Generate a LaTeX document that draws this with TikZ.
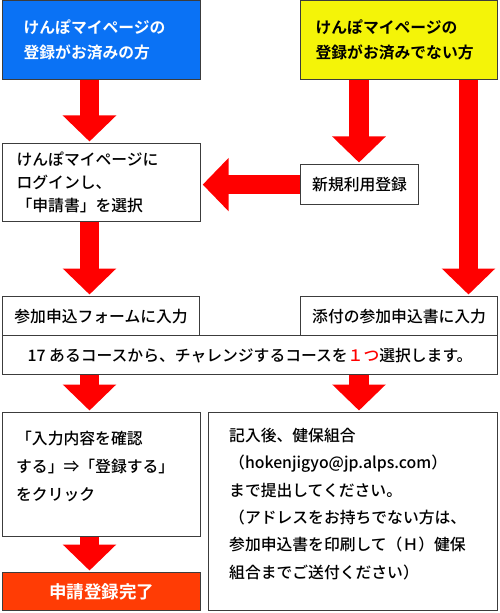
\documentclass[tikz,border=0pt]{standalone}
\usepackage{fontspec}
\setmainfont{Noto Sans CJK JP}[UprightFont=* Medium, BoldFont=* Bold]
\usepackage{xcolor}
\usetikzlibrary{arrows.meta,positioning}
\definecolor{kenpoblue}{RGB}{10, 114, 245}
\definecolor{kenpoyellow}{RGB}{244, 244, 8}
\definecolor{doneorange}{RGB}{255, 60, 5}
\definecolor{flowred}{RGB}{255, 0, 0}
\definecolor{framegray}{RGB}{60, 60, 60}

\tikzset{
  box/.style={draw=framegray, line width=1.2bp, anchor=north west, inner sep=0pt, align=left},
  txt/.style={anchor=north west, inner sep=0pt, align=left},
  redarrow/.style={flowred, line width=19.5bp, shorten >=1.5bp, -{Triangle[width=52bp, length=26bp]}}
}

\begin{document}
\begin{tikzpicture}[x=1bp, y=-1bp, font=\fontsize{15.8bp}{23bp}\selectfont]
            \useasboundingbox (0,0) rectangle (500,613);
            % columns of the arrows
            \coordinate (lcol) at (89.5,0);
            \coordinate (mcol) at (359,0);
            \coordinate (rcol) at (468.5,0);

            % top row
            \node[box, fill=kenpoblue, text=white, font=\fontsize{15.8bp}{25bp}\selectfont\bfseries,
                  minimum width=198bp, minimum height=79bp, text width=156bp] (registered) at (2,0)
                  {けんぽマイページの\\登録がお済みの方};
            \node[box, fill=kenpoyellow, font=\fontsize{15.8bp}{25bp}\selectfont\bfseries,
                  minimum width=197bp, minimum height=79bp, text width=167bp] (notregistered) at (300,0)
                  {けんぽマイページの\\登録がお済みでない方};

            % second row
            \node[box, minimum width=198bp, minimum height=78bp, text width=170bp] (login) at (2,143)
                  {けんぽマイページに\\ログインし、\\「申請書」を選択};
            \node[box, minimum width=118bp, minimum height=40bp, align=center] (signup) at (300,164)
                  {新規利用登録};

            % entry row
            \node[box, minimum width=197bp, minimum height=39bp, align=center] (form) at (2,296)
                  {参加申込フォームに入力};
            \node[box, minimum width=197bp, minimum height=39bp, align=center] (attached) at (300,296)
                  {添付の参加申込書に入力};
            \node[box, minimum width=495bp, minimum height=39bp, align=center] (course) at (2,335)
                  {17 あるコースから、チャレンジするコースを{\color{flowred}１つ}選択します。};

            % bottom row
            \node[box, minimum width=198bp, minimum height=124bp] (confirm) at (2,412) {};
            \node[txt, font=\fontsize{15.8bp}{28bp}\selectfont] (confirmtext) at (16,431)
                  {「入力内容を確認\\する」⇒「登録する」\\をクリック};
            \node[box, fill=doneorange, text=white, font=\fontsize{17.5bp}{20bp}\selectfont\bfseries,
                  minimum width=198bp, minimum height=38bp, align=center] (done) at (2,572)
                  {申請登録完了};
            \node[box, minimum width=289bp, minimum height=198bp] (submit) at (208,412) {};
            \node[txt, font=\fontsize{15.8bp}{27.3bp}\selectfont] (submittext) at (229,428)
                  {記入後、健保組合\\（hokenjigyo@jp.alps.com）\\まで提出してください。\\（アドレスをお持ちでない方は、\\参加申込書を印刷して（Ｈ）健保\\組合までご送付ください）};

            % red arrows
            \draw[redarrow] (lcol |- registered.south) -- (lcol |- login.north);
            \draw[redarrow] (mcol |- notregistered.south) -- (mcol |- signup.north);
            \draw[redarrow] (signup.west) -- (signup.west -| login.east);
            \draw[redarrow] (rcol |- notregistered.south) -- (rcol |- attached.north);
            \draw[redarrow] (lcol |- login.south) -- (lcol |- form.north);
            \draw[redarrow] (lcol |- course.south) -- (lcol |- confirm.north);
            \draw[redarrow] (mcol |- course.south) -- (mcol |- submit.north);
            \draw[redarrow] (lcol |- confirm.south) -- (lcol |- done.north);
\end{tikzpicture}
\end{document}
